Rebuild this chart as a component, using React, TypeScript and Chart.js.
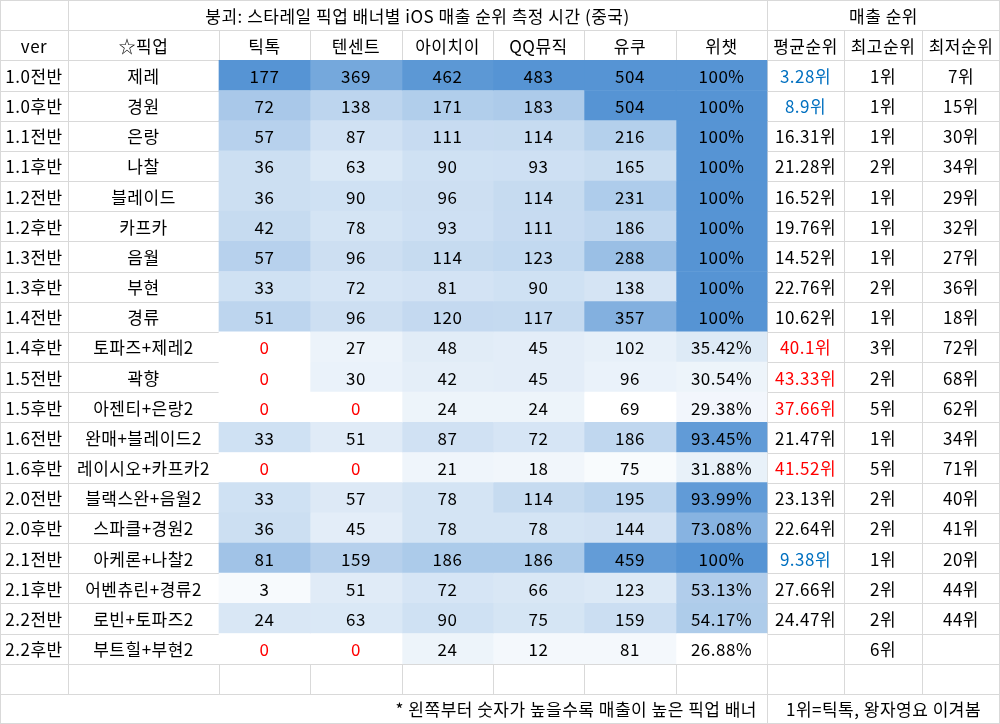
import React, { useEffect, useRef } from 'react';
import { Chart, registerables } from 'chart.js';

Chart.register(...registerables);

// ---------------- data ----------------
const TITLE = '붕괴: 스타레일 픽업 배너별 iOS 매출 순위 측정 시간 (중국)';
const RANK_GROUP = '매출 순위';
const HEADERS = ['ver', '☆픽업', '틱톡', '텐센트', '아이치이', 'QQ뮤직', '유쿠', '위챗', '평균순위', '최고순위', '최저순위'];
const FOOTNOTE = '* 왼쪽부터 숫자가 높을수록 매출이 높은 픽업 배너';
const FOOTNOTE2 = '1위=틱톡, 왕자영요 이겨봄';

const VERSIONS = ['1.0전반', '1.0후반', '1.1전반', '1.1후반', '1.2전반', '1.2후반', '1.3전반', '1.3후반', '1.4전반', '1.4후반',
  '1.5전반', '1.5후반', '1.6전반', '1.6후반', '2.0전반', '2.0후반', '2.1전반', '2.1후반', '2.2전반', '2.2후반'];
const PICKUPS = ['제레', '경원', '은랑', '나찰', '블레이드', '카프카', '음월', '부현', '경류', '토파즈+제레2',
  '곽향', '아젠티+은랑2', '완매+블레이드2', '레이시오+카프카2', '블랙스완+음월2', '스파클+경원2', '아케론+나찰2', '어벤츄린+경류2', '로빈+토파즈2', '부트힐+부현2'];
const TIKTOK = [177, 72, 57, 36, 36, 42, 57, 33, 51, 0, 0, 0, 33, 0, 33, 36, 81, 3, 24, 0];
const TENCENT = [369, 138, 87, 63, 90, 78, 96, 72, 96, 27, 30, 0, 51, 0, 57, 45, 159, 51, 63, 0];
const IQIYI = [462, 171, 111, 90, 96, 93, 114, 81, 120, 48, 42, 24, 87, 21, 78, 78, 186, 72, 90, 24];
const QQMUSIC = [483, 183, 114, 93, 114, 111, 123, 90, 117, 45, 45, 24, 72, 18, 114, 78, 186, 66, 75, 12];
const YOUKU = [504, 504, 216, 165, 231, 186, 288, 138, 357, 102, 96, 69, 186, 75, 195, 144, 459, 123, 159, 81];
const WECHAT = [100, 100, 100, 100, 100, 100, 100, 100, 100, 35.42, 30.54, 29.38, 93.45, 31.88, 93.99, 73.08, 100, 53.13, 54.17, 26.88];
const AVG_RANK: (number | null)[] = [3.28, 8.9, 16.31, 21.28, 16.52, 19.76, 14.52, 22.76, 10.62, 40.1, 43.33, 37.66, 21.47, 41.52, 23.13, 22.64, 9.38, 27.66, 24.47, null];
const BEST_RANK = [1, 1, 1, 2, 1, 1, 1, 2, 1, 3, 2, 5, 1, 5, 2, 2, 1, 2, 2, 6];
const WORST_RANK: (number | null)[] = [7, 15, 30, 34, 29, 32, 27, 36, 18, 72, 68, 62, 34, 71, 40, 41, 20, 44, 44, null];

// ---------------- layout / style ----------------
const COL_EDGES = [0, 68, 219, 310, 402, 493, 584, 676, 767, 844, 922, 1000];
const ROWS = ['__title', '__header', ...VERSIONS, '__blank', '__footer'];
const FONT = '17px "Noto Sans CJK KR", "Malgun Gothic", sans-serif';
const LETTER_SPACING = '0.5px';
const GRID = '#d9d9d9';
const TEXT = '#000000';
const RED = '#ff0000';
const BLUE = '#0070c0';
const MIN_RGB = [255, 255, 255];
const MAX_RGB = [86, 148, 212];
const GAMMA = 0.75;

function heat(v: number, lo: number, hi: number): string {
  const t = Math.pow(Math.max(0, Math.min(1, (v - lo) / (hi - lo))), GAMMA);
  const c = MIN_RGB.map((m, i) => Math.round(m + (MAX_RGB[i] - m) * t));
  return `rgb(${c[0]},${c[1]},${c[2]})`;
}

const mid3 = [...TENCENT, ...IQIYI, ...QQMUSIC];
const mid3Lo = Math.min(...mid3);
const mid3Hi = Math.max(...mid3);
const scaleOf = (arr: number[]) => [Math.min(...arr), Math.max(...arr)];

type Col = { texts: string[]; colors: string[]; fills: string[] };
const none = VERSIONS.map(() => 'rgba(0,0,0,0)');
const black = VERSIONS.map(() => TEXT);

function heatCol(arr: number[], lo: number, hi: number, fmt: (v: number) => string): Col {
  return {
    texts: arr.map(fmt),
    colors: arr.map((v) => (v === 0 ? RED : TEXT)),
    fills: arr.map((v) => heat(v, lo, hi)),
  };
}

const [tkLo, tkHi] = scaleOf(TIKTOK);
const [ykLo, ykHi] = scaleOf(YOUKU);
const [wcLo, wcHi] = scaleOf(WECHAT);

const COLUMNS: Col[] = [
  { texts: VERSIONS, colors: black, fills: none },
  { texts: PICKUPS, colors: black, fills: none },
  heatCol(TIKTOK, tkLo, tkHi, String),
  heatCol(TENCENT, mid3Lo, mid3Hi, String),
  heatCol(IQIYI, mid3Lo, mid3Hi, String),
  heatCol(QQMUSIC, mid3Lo, mid3Hi, String),
  heatCol(YOUKU, ykLo, ykHi, String),
  heatCol(WECHAT, wcLo, wcHi, (v) => (v === 100 ? '100%' : v.toFixed(2) + '%')),
  {
    texts: AVG_RANK.map((v) => (v == null ? '' : v + '위')),
    colors: AVG_RANK.map((v) => (v == null ? TEXT : v < 10 ? BLUE : v > 35 ? RED : TEXT)),
    fills: none,
  },
  { texts: BEST_RANK.map((v) => v + '위'), colors: black, fills: none },
  { texts: WORST_RANK.map((v) => (v == null ? '' : v + '위')), colors: black, fills: none },
];

const tablePlugin = {
  id: 'tableGrid',
  beforeDatasetsDraw(chart: any) {
    const { ctx, scales } = chart;
    const xs = scales.x;
    const ys = scales.y;
    const W = chart.width;
    const H = chart.height;
    const X = (c: number) => Math.min(W - 1, Math.round(xs.getPixelForValue(COL_EDGES[c])));
    const Y = (r: number) => Math.min(H - 1, Math.round(ys.getPixelForValue(r - 0.5)));
    ctx.save();
    ctx.fillStyle = '#ffffff';
    ctx.fillRect(0, 0, W, H);
    ctx.strokeStyle = GRID;
    ctx.lineWidth = 1;
    const nCols = COL_EDGES.length - 1;
    ROWS.forEach((_, r) => {
      let spans: number[][];
      if (r === 0) spans = [[0, 1], [1, 8], [8, nCols]];
      else if (r === ROWS.length - 1) spans = [[0, 8], [8, nCols]];
      else spans = Array.from({ length: nCols }, (_, c) => [c, c + 1]);
      spans.forEach(([a, b]) => {
        const x0 = X(a), x1 = X(b), y0 = Y(r), y1 = Y(r + 1);
        ctx.strokeRect(x0 + 0.5, y0 + 0.5, x1 - x0, y1 - y0);
      });
    });
    ctx.restore();
  },
  afterDatasetsDraw(chart: any) {
    const { ctx, scales } = chart;
    const xs = scales.x;
    const ys = scales.y;
    const X = (c: number) => xs.getPixelForValue(COL_EDGES[c]);
    const YC = (r: number) => ys.getPixelForValue(r);
    const DY = 1;
    ctx.save();
    ctx.font = FONT;
    try { (ctx as any).letterSpacing = LETTER_SPACING; } catch (e) { /* ignore */ }
    ctx.textBaseline = 'middle';
    ctx.textAlign = 'center';
    ctx.fillStyle = TEXT;
    // title rows
    ctx.fillText(TITLE, (X(1) + X(8)) / 2, YC(0) + DY);
    ctx.fillText(RANK_GROUP, (X(8) + X(11)) / 2, YC(0) + DY);
    HEADERS.forEach((h, c) => ctx.fillText(h, (X(c) + X(c + 1)) / 2, YC(1) + DY));
    // cells
    chart.data.datasets.forEach((ds: any, d: number) => {
      const meta = chart.getDatasetMeta(d);
      meta.data.forEach((el: any, i: number) => {
        const txt = ds.cellTexts[i];
        if (!txt) return;
        ctx.fillStyle = ds.cellColors[i];
        ctx.fillText(txt, (el.x + el.base) / 2, el.y + DY);
      });
    });
    // footer
    const last = ROWS.length - 1;
    ctx.fillStyle = TEXT;
    ctx.textAlign = 'right';
    ctx.fillText(FOOTNOTE, X(8) - 10, YC(last) + DY);
    ctx.textAlign = 'center';
    ctx.fillText(FOOTNOTE2, (X(8) + X(11)) / 2, YC(last) + DY);
    ctx.restore();
  },
};

export default function App() {
  const ref = useRef<HTMLCanvasElement>(null);
  useEffect(() => {
    const canvas = ref.current;
    if (!canvas) return;
    const chart = new Chart(canvas, {
      type: 'bar',
      data: {
        labels: ROWS,
        datasets: COLUMNS.map((col, c) => ({
          label: HEADERS[c],
          data: VERSIONS.map((v) => ({ x: [COL_EDGES[c], COL_EDGES[c + 1]], y: v })),
          backgroundColor: col.fills,
          borderWidth: 0,
          grouped: false,
          barPercentage: 1,
          categoryPercentage: 1,
          cellTexts: col.texts,
          cellColors: col.colors,
        })) as any,
      },
      options: {
        indexAxis: 'y',
        responsive: false,
        animation: false,
        devicePixelRatio: 1,
        events: [],
        layout: { padding: 0 },
        plugins: { legend: { display: false }, tooltip: { enabled: false }, title: { display: false } },
        scales: {
          x: { type: 'linear', min: 0, max: 1000, display: false },
          y: { type: 'category', display: false, offset: true },
        },
      } as any,
      plugins: [tablePlugin],
    });
    return () => chart.destroy();
  }, []);
  return (
    <div style={{ position: 'absolute', left: 0, top: 0, width: 1000, height: 724, background: '#fff' }}>
      <canvas ref={ref} width={1000} height={724} style={{ display: 'block', width: 1000, height: 724 }} />
    </div>
  );
}
